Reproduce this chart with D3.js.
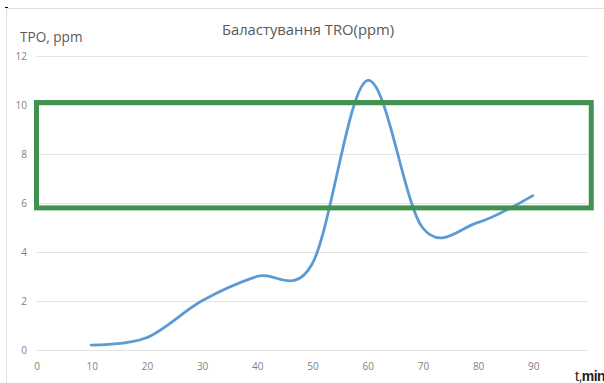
<!DOCTYPE html>
<html><head><meta charset="utf-8">
<script src="https://cdn.jsdelivr.net/npm/d3@7"></script>
<style>body{margin:0;background:#fff}svg{display:block}</style>
</head><body>
<script>
const times = [10, 20, 30, 40, 50, 60, 70, 80, 90];
const tro = [0.2, 0.5, 2.0, 3.0, 3.5, 11.0, 5.0, 5.2, 6.3];
const yTicks = [0, 2, 4, 6, 8, 10, 12];
const xTicks = [0, 10, 20, 30, 40, 50, 60, 70, 80, 90];
const boxX = [0, 100.5];
const boxY = [5.8, 10.1];
const title = "Баластування TRO(ppm)";
const yLabel = "TPO, ppm";

const W = 604, H = 383;
const svg = d3.select("body").append("svg").attr("width", W).attr("height", H);
const font = "'Open Sans', 'Noto Sans', sans-serif";

// chart border
svg.append("path").attr("d", "M6.5,383 V8.5 H604").attr("fill", "none").attr("stroke", "#eadcdc").attr("stroke-width", 1);
svg.append("line").attr("x1", 5).attr("x2", 8).attr("y1", 7.5).attr("y2", 7.5).attr("stroke", "#000").attr("stroke-width", 1);

const x = d3.scaleLinear().domain([0, 100]).range([36, 588]);
const y = d3.scaleLinear().domain([0, 12]).range([350, 56]);

// gridlines
svg.append("g").selectAll("line").data(yTicks).join("line")
  .attr("x1", x(0)).attr("x2", x(100))
  .attr("y1", d => Math.round(y(d)) + 0.5).attr("y2", d => Math.round(y(d)) + 0.5)
  .attr("stroke", "#e3e3e3").attr("stroke-width", 1);

// y labels
svg.append("g").selectAll("text").data(yTicks).join("text")
  .attr("x", 27).attr("y", d => y(d) + 3.5)
  .attr("text-anchor", "end").attr("font-family", font).attr("font-size", 10)
  .attr("fill", "#7f7f7f").text(d => d);

// x labels
svg.append("g").selectAll("text").data(xTicks).join("text")
  .attr("x", d => x(d) + 1).attr("y", 370)
  .attr("text-anchor", "middle").attr("font-family", font).attr("font-size", 10)
  .attr("fill", "#7f7f7f").text(d => d);

// line
const line = d3.line().x(d => x(d[0])).y(d => y(d[1])).curve(d3.curveCatmullRom.alpha(0));
svg.append("path").datum(times.map((t, i) => [t, tro[i]]))
  .attr("d", line).attr("fill", "none").attr("stroke", "#5b9bd5")
  .attr("stroke-width", 2.8).attr("stroke-linecap", "round");

// green box
svg.append("rect")
  .attr("x", x(boxX[0]) + 0.5).attr("y", y(boxY[1]))
  .attr("width", x(boxX[1]) - x(boxX[0])).attr("height", y(boxY[0]) - y(boxY[1]))
  .attr("fill", "none").attr("stroke", "#40934f").attr("stroke-width", 5);

// title
svg.append("text").attr("x", 308).attr("y", 35).attr("text-anchor", "middle")
  .attr("font-family", font).attr("font-size", 14.8).attr("fill", "#595959").text(title);

// y axis title
svg.append("text").attr("x", 20).attr("y", 42)
  .attr("font-family", font).attr("font-size", 13.6).attr("fill", "#595959").text(yLabel);

// x axis title
const xt = svg.append("text").attr("x", 575).attr("y", 381)
  .attr("font-family", "'Liberation Sans Narrow', 'Liberation Sans', sans-serif").attr("font-size", 14).attr("fill", "#222")
  .attr("letter-spacing", -0.5);
xt.append("tspan").text("t,");
xt.append("tspan").attr("font-weight", "bold").text("min");
</script>
</body></html>
